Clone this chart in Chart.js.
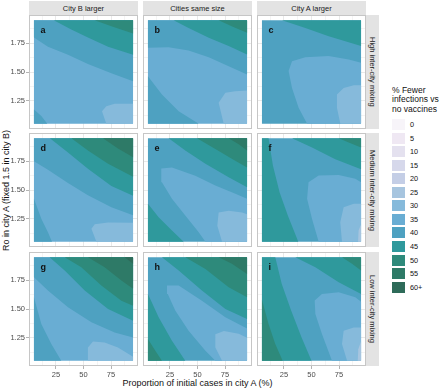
<!DOCTYPE html>
<html>
<head>
<meta charset="utf-8">
<script src="https://cdn.jsdelivr.net/npm/chart.js@4.4.0/dist/chart.umd.min.js"></script>
<style>
body{margin:0;width:440px;height:388px;background:#fff;position:relative;overflow:hidden;font-family:"Liberation Sans",Arial,sans-serif}
canvas{position:absolute}
.strip{position:absolute;background:#e3e3e3;color:#222;font-size:7.5px;text-align:center;display:flex;align-items:center;justify-content:center}
.vstrip{writing-mode:vertical-rl}
.title{position:absolute;color:#111;font-size:9px;white-space:nowrap}
.key{position:absolute;left:392px;width:13px;height:11px}
.klab{position:absolute;left:410px;font-size:7.3px;color:#111;line-height:11px}
</style>
</head>
<body>
<div id="ytitle" class="title" style="left:1px;top:15px;height:351px;width:12px;writing-mode:vertical-rl;transform:rotate(180deg);text-align:center">Ro in city A (fixed 1.5 in city B)</div>
<div class="title" style="left:29px;width:337px;top:378px;text-align:center">Proportion of initial cases in city A (%)</div>
<div class="title" style="left:392px;top:86px;font-size:8.5px;line-height:9.4px">% Fewer<br>infections vs<br>no vaccines</div>
<script>
const colLabels = ['City B larger', 'Cities same size', 'City A larger'];
const rowLabels = ['High inter-city mixing', 'Medium inter-city mixing', 'Low inter-city mixing'];
const panelLetters = ['a', 'b', 'c', 'd', 'e', 'f', 'g', 'h', 'i'];
const xTicks = [25, 50, 75];
const yTicks = [1.25, 1.5, 1.75];
const yTickLabels = ['1.25', '1.50', '1.75'];
const xGrid = [12.5, 25, 37.5, 50, 62.5, 75, 87.5];
const yGrid = [1.125, 1.25, 1.375, 1.5, 1.625, 1.75, 1.875];
const xRange = [5, 95];
const yRange = [1.05, 1.95];

const legendBreaks = [0, 5, 10, 15, 20, 25, 30, 35, 40, 45, 50, 55, 60];
const legendLabels = ['0', '5', '10', '15', '20', '25', '30', '35', '40', '45', '50', '55', '60+'];
const legendColors = ['#f7f4f9', '#efe8f3', '#e4e1ef', '#d6d8eb', '#c4cee6', '#a7c5df', '#86badb',
  '#69add3', '#4ea1c1', '#2f999c', '#2e8a7b', '#2e7a67', '#2e6b59'];

// band covering most of each panel
const baseBand = [35, 35, 40, 35, 40, 40, 35, 40, 40];

// filled contour bands: [band, outline [x, y]]
const regionsA = [
  [40, [[5,1.95],[5,1.80],[17.7,1.72],[35.9,1.65],[54,1.57],[75.3,1.49],[95,1.42],[95,1.95]]],
  [45, [[23,1.95],[38.9,1.87],[54,1.80],[72.3,1.72],[95,1.65],[95,1.95]]],
  [50, [[60,1.95],[76,1.895],[95,1.835],[95,1.95]]],
  [40, [[5,1.05],[5,1.174],[11.7,1.117],[17.1,1.05]]],
  [30, [[70.7,1.05],[66.8,1.16],[70.7,1.203],[78.3,1.224],[95,1.224],[95,1.05]]]
];
const regionsB = [
  [40, [[5,1.95],[5,1.71],[23.8,1.716],[41.9,1.686],[60.2,1.629],[78.3,1.55],[95,1.478],[95,1.95]]],
  [45, [[28.3,1.95],[41.9,1.883],[60.2,1.797],[78.3,1.725],[95,1.652],[95,1.95]]],
  [50, [[69.2,1.95],[81,1.898],[95,1.84],[95,1.95]]],
  [40, [[5,1.05],[5,1.464],[17.7,1.305],[32.9,1.16],[51.1,1.05]]],
  [30, [[73.8,1.05],[69.2,1.233],[75.3,1.32],[84.2,1.333],[95,1.34],[95,1.05]]]
];
const regionsC = [
  [45, [[23.2,1.95],[44.4,1.883],[65.6,1.81],[95,1.725],[95,1.95]]],
  [35, [[46,1.05],[38.3,1.19],[32.3,1.362],[29.2,1.509],[32.3,1.594],[44.4,1.629],[65.6,1.638],[83.8,1.609],[95,1.58],[95,1.05]]],
  [30, [[76.2,1.05],[73.1,1.19],[73.1,1.305],[79.2,1.362],[88.4,1.386],[95,1.386],[95,1.05]]]
];
const regionsD = [
  [40, [[5,1.95],[5,1.75],[17.7,1.675],[35.9,1.56],[54,1.455],[75.3,1.35],[95,1.28],[95,1.95]]],
  [45, [[19.5,1.95],[35.9,1.826],[54,1.684],[75.3,1.535],[95,1.45],[95,1.95]]],
  [50, [[39,1.95],[54,1.843],[72.3,1.727],[95,1.615],[95,1.95]]],
  [55, [[67.7,1.95],[81.3,1.86],[95,1.785],[95,1.95]]],
  [40, [[5,1.05],[5,1.423],[11.7,1.25],[17.7,1.134],[21.4,1.05]]],
  [30, [[61.7,1.05],[57.2,1.163],[60.2,1.203],[72.3,1.218],[95,1.215],[95,1.05]]]
];
const regionsE = [
  [35, [[57.2,1.05],[51.1,1.134],[38.9,1.279],[26.8,1.423],[17.7,1.568],[17.1,1.687],[26.8,1.695],[48,1.623],[66.2,1.539],[84.4,1.467],[95,1.423],[95,1.05]]],
  [45, [[23.8,1.95],[38.9,1.843],[57.2,1.727],[78.3,1.61],[95,1.524],[95,1.95]]],
  [50, [[49.5,1.95],[66.2,1.857],[81.5,1.77],[95,1.695],[95,1.95]]],
  [55, [[78.3,1.95],[87.4,1.898],[95,1.843],[95,1.95]]],
  [45, [[5,1.05],[5,1.38],[14.7,1.264],[26.8,1.149],[37.4,1.05]]],
  [30, [[72.3,1.05],[68,1.19],[69.2,1.305],[78.3,1.32],[90.5,1.305],[95,1.29],[95,1.05]]]
];
const regionsF = [
  [45, [[5,1.95],[11,1.95],[15,1.71],[21,1.48],[28.5,1.279],[38,1.05],[5,1.05]]],
  [45, [[32.3,1.95],[50.5,1.869],[71.6,1.767],[95,1.68],[95,1.95]]],
  [50, [[74.7,1.95],[83.8,1.912],[95,1.869],[95,1.95]]],
  [35, [[56.5,1.05],[50.5,1.248],[46,1.423],[47.3,1.568],[56.5,1.626],[74.7,1.631],[89.8,1.597],[95,1.568],[95,1.05]]],
  [30, [[77.7,1.05],[76.1,1.221],[79.2,1.351],[88.4,1.38],[95,1.38],[95,1.05]]],
  [25, [[95,1.20],[92.8,1.15],[92.3,1.05],[95,1.05]]]
];
const regionsG = [
  [40, [[5,1.95],[5,1.775],[17.7,1.66],[35.9,1.515],[57.2,1.384],[78.3,1.297],[95,1.253],[95,1.95]]],
  [45, [[19.2,1.95],[32.9,1.834],[51.1,1.66],[72.3,1.5],[95,1.398],[95,1.95]]],
  [50, [[32.9,1.95],[48,1.863],[66.2,1.703],[84.4,1.572],[95,1.529],[95,1.95]]],
  [55, [[54,1.95],[69.2,1.863],[84.4,1.747],[95,1.675],[95,1.95]]],
  [60, [[87.4,1.95],[95,1.892],[95,1.95]]],
  [40, [[5,1.05],[5,1.602],[11.7,1.37],[20.8,1.195],[29.8,1.05]]],
  [30, [[53.5,1.05],[54,1.166],[58.6,1.218],[69.2,1.209],[81.3,1.166],[95,1.085],[95,1.05]]]
];
const regionsH = [
  [35, [[66.2,1.05],[57.2,1.137],[41.9,1.311],[29.8,1.486],[23,1.63],[22.3,1.703],[32.9,1.703],[54,1.572],[75.3,1.428],[95,1.33],[95,1.05]]],
  [45, [[17.7,1.95],[32.9,1.834],[54,1.66],[75.3,1.5],[95,1.413],[95,1.95]]],
  [50, [[38.9,1.95],[57.2,1.848],[78.3,1.689],[95,1.602],[95,1.95]]],
  [55, [[69.2,1.95],[81.3,1.892],[95,1.805],[95,1.95]]],
  [45, [[5,1.05],[5,1.63],[14.7,1.428],[26.8,1.224],[38.9,1.05]]],
  [50, [[5,1.05],[5,1.239],[11.7,1.137],[17.7,1.05]]],
  [30, [[72.3,1.05],[66.2,1.166],[66.2,1.28],[74,1.31],[87.4,1.285],[95,1.25],[95,1.05]]]
];
const regionsI = [
  [45, [[5,1.95],[17.1,1.95],[23,1.718],[31.5,1.486],[41,1.253],[50,1.05],[5,1.05]]],
  [50, [[5,1.05],[5,1.581],[11,1.37],[17.1,1.195],[23.8,1.05]]],
  [45, [[35.3,1.95],[53.5,1.863],[74.7,1.732],[95,1.63],[95,1.95]]],
  [50, [[77.7,1.95],[86.8,1.892],[95,1.834],[95,1.95]]],
  [35, [[68.6,1.05],[59.5,1.282],[53.5,1.457],[52.9,1.573],[59.5,1.63],[74.7,1.645],[89.8,1.602],[95,1.564],[95,1.05]]],
  [30, [[82.3,1.05],[77.7,1.195],[79.2,1.311],[88.4,1.34],[95,1.34],[95,1.05]]],
  [25, [[95,1.22],[92.5,1.15],[92,1.05],[95,1.05]]]
];
const panelRegions = [regionsA, regionsB, regionsC, regionsD, regionsE, regionsF, regionsG, regionsH, regionsI];

// layout
const colLeft = [29, 143, 257];
const rowTop = [15, 133, 252];
const boxW = 109, boxH = 114;
const axisW = 29, axisH = 13;

const bandColor = b => legendColors[legendBreaks.indexOf(b)];
const fontTick = {family: '"Liberation Sans", Arial, sans-serif', size: 7.5};

const panelFrame = {
  id: 'panelFrame',
  afterDatasetsDraw(chart, args, opts) {
    const {ctx, chartArea: a, scales} = chart;
    ctx.save();
    ctx.font = 'bold 9px "Liberation Sans", Arial, sans-serif';
    ctx.fillStyle = '#111';
    ctx.textBaseline = 'alphabetic';
    ctx.fillText(opts.letter, scales.x.getPixelForValue(11), scales.y.getPixelForValue(1.835));
    ctx.strokeStyle = '#c6c6c6';
    ctx.lineWidth = 1;
    ctx.strokeRect(a.left + 0.5, a.top + 0.5, a.right - a.left - 1, a.bottom - a.top - 1);
    ctx.restore();
  }
};

function makePanel(r, c) {
  const k = r * 3 + c;
  const left = c === 0, bottom = r === 2;
  const cv = document.createElement('canvas');
  const w = boxW + (left ? axisW : 0), h = boxH + (bottom ? axisH : 0);
  cv.width = w; cv.height = h;
  cv.style.left = (colLeft[c] - (left ? axisW : 0)) + 'px';
  cv.style.top = rowTop[r] + 'px';
  document.body.appendChild(cv);

  const regions = [[baseBand[k], [[xRange[0], yRange[0]], [xRange[1], yRange[0]], [xRange[1], yRange[1]], [xRange[0], yRange[1]]]]]
    .concat(panelRegions[k]);
  const datasets = regions.map(([band, pts]) => ({
    data: pts.map(p => ({x: p[0], y: p[1]})),
    backgroundColor: bandColor(band),
    borderColor: 'rgba(0,0,0,0)',
    borderWidth: 0,
    pointRadius: 0,
    fill: 'shape'
  })).reverse();

  const gridColor = (list) => ctx => list.includes(ctx.tick.value) ? '#e9e9e9' : '#f4f4f4';
  const tickColor = (list) => ctx => list.includes(ctx.tick.value) ? '#b3b3b3' : 'rgba(0,0,0,0)';

  new Chart(cv, {
    type: 'line',
    data: {datasets},
    options: {
      responsive: false,
      animation: false,
      devicePixelRatio: 1,
      events: [],
      layout: {padding: 0},
      plugins: {legend: {display: false}, tooltip: {enabled: false}, panelFrame: {letter: panelLetters[k]}},
      scales: {
        x: {
          type: 'linear', min: 0.5, max: 99.5,
          afterBuildTicks: s => { s.ticks = xGrid.map(v => ({value: v})); },
          afterFit: s => { s.height = bottom ? axisH : 0; s.paddingLeft = 0; s.paddingRight = 0; },
          grid: {color: gridColor(xTicks), tickColor: tickColor(xTicks), drawTicks: bottom, tickLength: 3},
          border: {display: false},
          ticks: {display: bottom, autoSkip: false, maxRotation: 0, padding: 1, color: '#4d4d4d', font: fontTick,
            callback: v => xTicks.includes(v) ? String(v) : ''}
        },
        y: {
          type: 'linear', min: 1.005, max: 1.995,
          afterBuildTicks: s => { s.ticks = yGrid.map(v => ({value: v})); },
          afterFit: s => { s.width = left ? axisW : 0; s.paddingTop = 0; s.paddingBottom = 0; },
          grid: {color: gridColor(yTicks), tickColor: tickColor(yTicks), drawTicks: left, tickLength: 3},
          border: {display: false},
          ticks: {display: left, autoSkip: false, padding: 1, color: '#4d4d4d', font: fontTick,
            callback: v => yTicks.includes(v) ? yTickLabels[yTicks.indexOf(v)] : ''}
        }
      }
    },
    plugins: [panelFrame]
  });
}

for (let r = 0; r < 3; r++) for (let c = 0; c < 3; c++) makePanel(r, c);

colLabels.forEach((t, c) => {
  const d = document.createElement('div');
  d.className = 'strip';
  d.style.cssText = `left:${colLeft[c]}px;top:1px;width:${boxW}px;height:14px`;
  d.textContent = t;
  document.body.appendChild(d);
});
rowLabels.forEach((t, r) => {
  const d = document.createElement('div');
  d.className = 'strip vstrip';
  d.style.cssText = `left:${colLeft[2] + boxW}px;top:${rowTop[r]}px;width:13px;height:${boxH}px`;
  d.textContent = t;
  document.body.appendChild(d);
});

legendLabels.forEach((t, i) => {
  const top = 119 + i * 13.56;
  const k = document.createElement('div');
  k.className = 'key';
  k.style.top = top + 'px';
  k.style.background = legendColors[i];
  document.body.appendChild(k);
  const l = document.createElement('div');
  l.className = 'klab';
  l.style.top = top + 'px';
  l.textContent = t;
  document.body.appendChild(l);
});
</script>
</body>
</html>
